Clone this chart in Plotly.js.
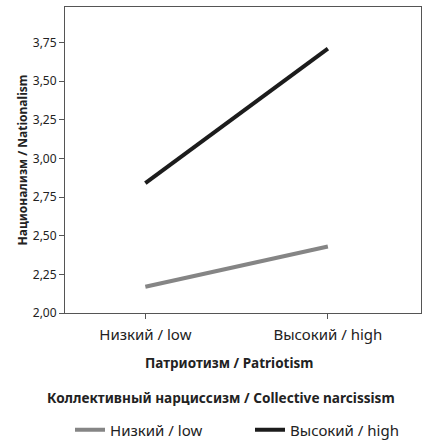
<!DOCTYPE html>
<html>
<head>
<meta charset="utf-8">
<script src="https://cdn.plot.ly/plotly-3.0.1.min.js"></script>
<style>html,body{margin:0;padding:0;background:#fff;}#chart{width:426px;height:441px;}</style>
</head>
<body>
<div id="chart"></div>
<script>
const patriotismCats = ["Низкий / low", "Высокий / high"];
const patriotismPos = [0, 1];
const lowNarcissism = [2.17, 2.43];
const highNarcissism = [2.84, 3.71];
const seriesNames = ["Низкий / low", "Высокий / high"];
const yTicks = [2.00, 2.25, 2.50, 2.75, 3.00, 3.25, 3.50, 3.75];

const font = "Noto Sans, DejaVu Sans, sans-serif";
const data = [
  {x: patriotismPos, y: lowNarcissism, name: seriesNames[0], mode: "lines",
   line: {color: "#858585", width: 4}, legend: "legend"},
  {x: patriotismPos, y: highNarcissism, name: seriesNames[1], mode: "lines",
   line: {color: "#1c1c1c", width: 4}, legend: "legend2"}
];
const legendBase = {
  orientation: "h", xref: "container", yref: "container", xanchor: "left", yanchor: "middle",
  y: 0.025, font: {size: 15, family: font, color: "#222"}, bgcolor: "rgba(0,0,0,0)"
};
const layout = {
  width: 426, height: 441,
  margin: {l: 65, r: 5, t: 7, b: 128},
  paper_bgcolor: "#fff", plot_bgcolor: "#fff",
  separators: ", ",
  font: {family: font, color: "#222", size: 13},
  showlegend: true,
  xaxis: {
    range: [-0.44, 1.51], tickvals: patriotismPos, ticktext: patriotismCats,
    showgrid: false, zeroline: false, showline: true, mirror: true,
    linecolor: "#555", linewidth: 1, ticks: "outside", ticklen: 5, tickcolor: "#555",
    tickfont: {size: 15, family: font, color: "#222"}, ticklabelstandoff: 3
  },
  yaxis: {
    range: [2.0, 3.98], tickvals: yTicks, tickformat: ".2f",
    showgrid: false, zeroline: false, showline: true, mirror: true,
    linecolor: "#555", linewidth: 1, ticks: "outside", ticklen: 5, tickcolor: "#555",
    tickfont: {size: 12, family: font, color: "#222"},
    title: {text: "<b>Национализм / Nationalism</b>", font: {size: 12, family: font, color: "#222"}, standoff: 2}
  },
  legend: Object.assign({}, legendBase, {x: 70 / 426}),
  legend2: Object.assign({}, legendBase, {x: 250 / 426}),
  annotations: [{
    xref: "paper", yref: "paper", x: (229 - 65) / 356, y: -(363 - 313) / 306,
    xanchor: "center", yanchor: "middle", showarrow: false,
    text: "<b>Патриотизм / Patriotism</b>",
    font: {size: 13.5, family: font, color: "#222"}
  }, {
    xref: "paper", yref: "paper", x: (221 - 65) / 356, y: -(398 - 313) / 306,
    xanchor: "center", yanchor: "middle", showarrow: false,
    text: "<b>Коллективный нарциссизм / Collective narcissism</b>",
    font: {size: 13.6, family: font, color: "#222"}
  }]
};
Plotly.newPlot("chart", data, layout, {displayModeBar: false, staticPlot: true});
</script>
</body>
</html>
